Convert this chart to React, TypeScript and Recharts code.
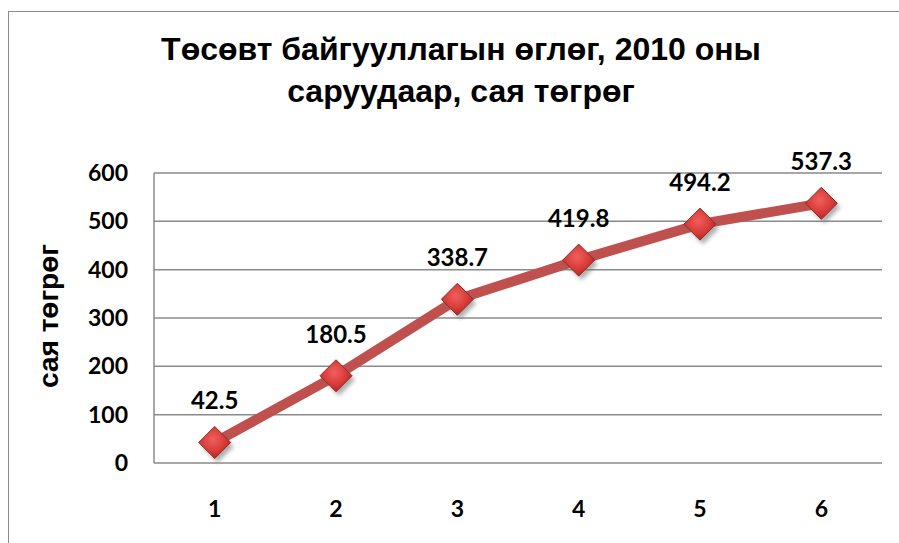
import React from 'react';
import { LineChart, Line, XAxis, YAxis, CartesianGrid, LabelList } from 'recharts';

const months = ['1', '2', '3', '4', '5', '6'];
const payables = [42.5, 180.5, 338.7, 419.8, 494.2, 537.3];
const yTicks = [0, 100, 200, 300, 400, 500, 600];
const titleLines = ['Төсөвт байгууллагын өглөг, 2010 оны', 'саруудаар, сая төгрөг'];
const yAxisTitle = 'сая төгрөг';

const data = months.map((m, i) => ({ month: m, value: payables[i] }));

const FONT = 'Lato, "Open Sans", sans-serif';
const TITLE_FONT = '"Liberation Sans", Arial, sans-serif';

const Diamond = (props: any) => {
  const { cx, cy, index } = props;
  if (cx == null || cy == null) return null;
  const r = 16;
  const gid = `dg${index}`;
  const fid = `df${index}`;
  const pts = (ox: number, oy: number) =>
    `${cx + ox},${cy + oy - r} ${cx + ox + r},${cy + oy} ${cx + ox},${cy + oy + r} ${cx + ox - r},${cy + oy}`;
  return (
    <g>
      <defs>
        <radialGradient id={gid} cx="45%" cy="40%" r="65%">
          <stop offset="0%" stopColor="#F0605C" />
          <stop offset="60%" stopColor="#D63A37" />
          <stop offset="100%" stopColor="#A8231F" />
        </radialGradient>
        <filter id={fid} x="-50%" y="-50%" width="200%" height="200%">
          <feGaussianBlur stdDeviation="2" />
        </filter>
      </defs>
      <polygon points={pts(3, 4)} fill="#777" opacity={0.6} filter={`url(#${fid})`} />
      <polygon points={pts(0, 0)} fill={`url(#${gid})`} stroke="#8E2B28" strokeWidth={1} />
    </g>
  );
};

const renderValueLabel = (props: any) => {
  const { x, y, value } = props;
  return (
    <text
      x={x}
      y={y - 33}
      textAnchor="middle"
      fontFamily={FONT}
      fontWeight={700}
      fontSize={24}
      fill="#000"
    >
      {value}
    </text>
  );
};

const YTitle = (props: any) => {
  const vb = props.viewBox || { x: 0, y: 173, width: 154, height: 290 };
  const x = vb.x + 58;
  const y = vb.y + vb.height / 2 - 2;
  return (
    <text
      x={x}
      y={y}
      transform={`rotate(-90, ${x}, ${y})`}
      textAnchor="middle"
      fontFamily={TITLE_FONT}
      fontWeight={700}
      fontSize={28}
      fill="#000"
    >
      {yAxisTitle}
    </text>
  );
};

export default function App() {
  return (
    <div
      style={{
        position: 'absolute',
        left: 0,
        top: 0,
        width: 899,
        height: 543,
        background: '#fff',
        overflow: 'hidden',
      }}
    >
      <div
        style={{
          position: 'absolute',
          left: 8,
          top: 11,
          width: 1000,
          height: 1000,
          border: '1.5px solid #8c8c8c',
          boxSizing: 'border-box',
        }}
      />
      <div
        style={{
          position: 'absolute',
          left: 0,
          top: 28,
          width: 922,
          textAlign: 'center',
          fontFamily: TITLE_FONT,
          fontWeight: 700,
          fontSize: 32,
          lineHeight: '42px',
          color: '#000',
        }}
      >
        {titleLines.map((t) => (
          <div key={t}>{t}</div>
        ))}
      </div>
      <div style={{ position: 'absolute', left: 0, top: 0 }}>
        <LineChart
          width={899}
          height={543}
          data={data}
          margin={{ top: 173, right: 17, bottom: 20, left: 0 }}
        >
          <CartesianGrid vertical={false} stroke="#8a8a8a" strokeWidth={1.5} />
          <XAxis
            dataKey="month"
            padding={{ left: 60.7, right: 60.7 }}
            axisLine={false}
            tickLine={false}
            height={60}
            tickMargin={32}
            tick={{ fontFamily: FONT, fontWeight: 700, fontSize: 23, fill: '#000' }}
          />
          <YAxis
            domain={[0, 600]}
            ticks={yTicks}
            width={154}
            axisLine={{ stroke: '#8a8a8a', strokeWidth: 1.5 }}
            tickLine={false}
            tickMargin={20}
            tick={{ fontFamily: FONT, fontWeight: 700, fontSize: 23, fill: '#000' }}
            label={{ content: YTitle }}
          />
          <Line
            type="linear"
            dataKey="value"
            stroke="#C0504D"
            strokeWidth={10}
            dot={<Diamond />}
            activeDot={false}
            isAnimationActive={false}
          >
            <LabelList dataKey="value" content={renderValueLabel} />
          </Line>
        </LineChart>
      </div>
    </div>
  );
}
